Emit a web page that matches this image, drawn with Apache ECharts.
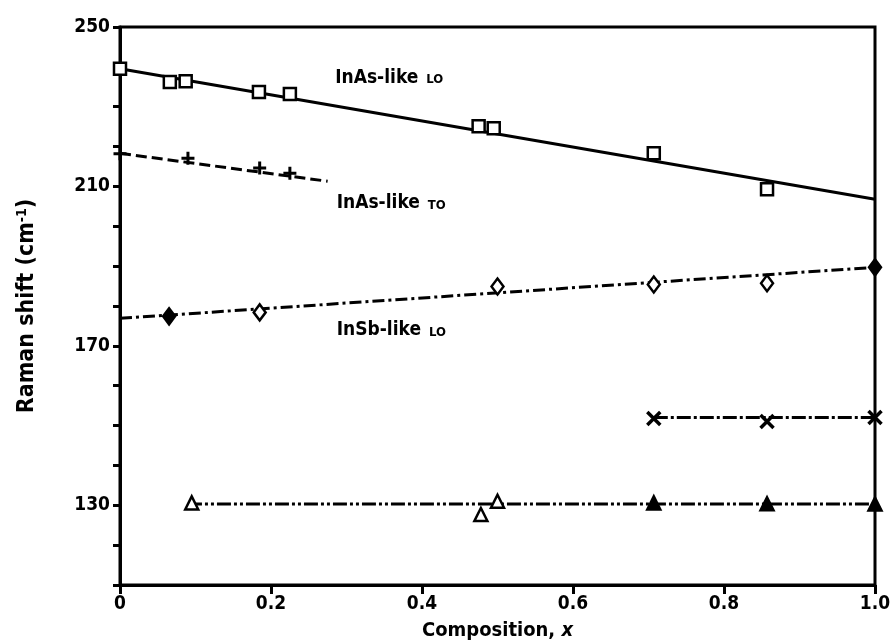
<!DOCTYPE html>
<html>
<head>
<meta charset="utf-8">
<script src="https://cdn.jsdelivr.net/npm/echarts@6/dist/echarts.min.js"></script>
<style>html,body{margin:0;padding:0;background:#fff}#c{width:891px;height:642px}</style>
</head>
<body>
<div id="c"></div>
<script>
// InAs-like LO mode (open squares) and its linear fit
const loX = [0, 0.066, 0.087, 0.184, 0.225, 0.475, 0.495, 0.707, 0.857];
const loY = [239.5, 236.2, 236.4, 233.7, 233.2, 225.1, 224.6, 218.3, 209.3];
const loFitX = [0, 1.0];
const loFitY = [239.5, 206.8];

// InAs-like TO mode (plus signs) and its fit
const toX = [0, 0.09, 0.185, 0.225];
const toY = [218.2, 217.1, 214.6, 213.3];
const toFitX = [0, 0.275];
const toFitY = [218.3, 211.3];

// InSb-like LO mode (diamonds) and its fit
const sbX = [0.065, 0.185, 0.5, 0.707, 0.857, 1.0];
const sbY = [177.4, 178.4, 184.9, 185.4, 185.7, 189.7];
const sbFilled = [true, false, false, false, false, true];
const sbFitX = [0, 1.0];
const sbFitY = [176.9, 189.7];

// Crosses
const crX = [0.707, 0.857, 1.0];
const crY = [151.8, 151.0, 152.0];
const crFitX = [0.707, 1.0];
const crFitY = [152.0, 152.0];

// Triangles
const trX = [0.095, 0.478, 0.5, 0.707, 0.857, 1.0];
const trY = [130.6, 127.7, 131.0, 130.6, 130.4, 130.3];
const trFilled = [false, false, false, true, true, true];
const trFitX = [0.09, 1.0];
const trFitY = [130.3, 130.3];

// Axis ticks
const xTicks = ['0', '0.2', '0.4', '0.6', '0.8', '1.0'];
const yLabelled = [250, 210, 170, 130];

// Curve labels
const curveNames = ['InAs-like', 'InAs-like', 'InSb-like'];
const curveModes = ['LO', 'TO', 'LO'];
const curveLabelX = [0.285, 0.287, 0.287];
const curveLabelY = [237.2, 205.8, 173.9];

const pairs = (xs, ys) => xs.map((x, i) => [x, ys[i]]);
const INK = '#000';
const FONT = '"Liberation Sans Narrow", "DejaVu Sans Condensed", sans-serif';
const WIDE = '"DejaVu Sans Condensed", "DejaVu Sans", sans-serif';

const crossPath = 'path://M0,0 L10,10 M10,0 L0,10';
const plusPath = 'path://M5,0 L5,10 M0,5 L10,5';

function fitLine(xs, ys, dash) {
  return {
    type: 'line', data: pairs(xs, ys), symbol: 'none', silent: true,
    lineStyle: { color: INK, width: 3, type: dash, opacity: 1 }, z: 2
  };
}
function markers(xs, ys, symbol, size, filledFlags) {
  return {
    type: 'scatter', symbol: symbol, symbolSize: size, z: 3,
    data: xs.map((x, i) => ({
      value: [x, ys[i]],
      itemStyle: {
        color: filledFlags && filledFlags[i] ? INK : '#fff',
        borderColor: INK, borderWidth: 2.5, opacity: 1
      }
    }))
  };
}

const chart = echarts.init(document.getElementById('c'), null, { renderer: 'canvas' });
chart.setOption({
  animation: false,
  backgroundColor: '#fff',
  grid: {
    left: 120, right: 16, top: 27, bottom: 57, outerBoundsMode: 'none', containLabel: false,
    show: true, borderColor: INK, borderWidth: 3, backgroundColor: 'transparent'
  },
  xAxis: {
    type: 'value', min: 0, max: 1, interval: 0.2,
    axisLine: { lineStyle: { color: INK, width: 3 } },
    axisTick: { show: true, length: 9, lineStyle: { color: INK, width: 3 } },
    splitLine: { show: false },
    axisLabel: {
      color: INK, fontFamily: FONT, fontWeight: 'bold', fontSize: 19, margin: 10,
      formatter: v => xTicks[Math.round(v / 0.2)]
    },
    name: 'Composition, {i|x}', nameLocation: 'middle', nameGap: 36,
    nameTextStyle: {
      color: INK, fontFamily: FONT, fontWeight: 'bold', fontSize: 20,
      rich: { i: { fontStyle: 'italic', fontWeight: 'bold', fontSize: 20, fontFamily: FONT, color: INK } }
    }
  },
  yAxis: {
    type: 'value', min: 110, max: 250, interval: 10,
    axisLine: { lineStyle: { color: INK, width: 3 } },
    axisTick: { show: true, length: 7, lineStyle: { color: INK, width: 3 } },
    splitLine: { show: false },
    axisLabel: {
      color: INK, fontFamily: FONT, fontWeight: 'bold', fontSize: 19, margin: 10,
      formatter: v => yLabelled.includes(v) ? String(v) : ''
    },
    name: 'Raman shift (cm{s|-1})', nameLocation: 'middle', nameGap: 80, nameRotate: 90,
    nameTextStyle: {
      color: INK, fontFamily: WIDE, fontWeight: 'bold', fontSize: 23,
      rich: { s: { fontSize: 14, fontWeight: 'bold', fontFamily: WIDE, color: INK, verticalAlign: 'top', padding: [0, 0, 11, 0] } }
    }
  },
  series: [
    fitLine(loFitX, loFitY, 'solid'),
    fitLine(toFitX, toFitY, [11, 5]),
    fitLine(sbFitX, sbFitY, [12, 4, 3, 4]),
    fitLine(crFitX, crFitY, [14, 3, 3, 3]),
    fitLine(trFitX, trFitY, [14, 3, 3, 3, 3, 3]),
    markers(loX, loY, 'rect', 12, null),
    {
      type: 'scatter', symbol: plusPath, symbolSize: 13, z: 3,
      itemStyle: { color: 'none', borderColor: INK, borderWidth: 3, opacity: 1 },
      data: pairs(toX, toY)
    },
    markers(sbX, sbY, 'diamond', [12, 16], sbFilled),
    {
      type: 'scatter', symbol: crossPath, symbolSize: 13, z: 3,
      itemStyle: { color: 'none', borderColor: INK, borderWidth: 3.5, opacity: 1 },
      data: pairs(crX, crY)
    },
    markers(trX, trY, 'triangle', 13, trFilled),
    {
      type: 'scatter', symbolSize: 0, silent: true, z: 4,
      itemStyle: { opacity: 1 },
      data: curveLabelX.map((x, i) => [x, curveLabelY[i]]),
      label: {
        show: true, position: 'right', distance: 0, opacity: 1,
        formatter: p => curveNames[p.dataIndex] + ' {m|' + curveModes[p.dataIndex] + '}',
        color: INK, fontFamily: FONT, fontWeight: 'bold', fontSize: 19,
        rich: { m: { fontSize: 13, fontWeight: 'bold', fontFamily: FONT, color: INK, padding: [4, 0, 0, 2] } }
      }
    }
  ]
});
</script>
</body>
</html>
